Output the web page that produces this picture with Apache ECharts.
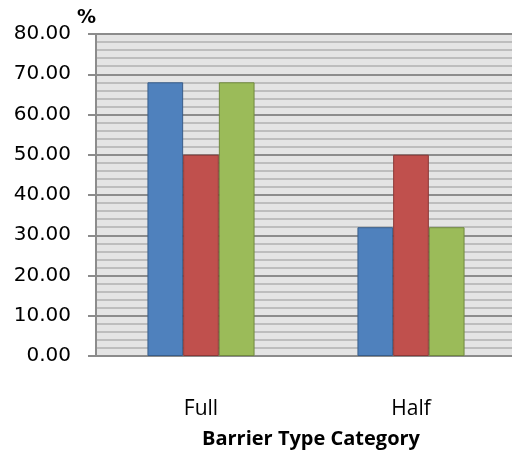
<!DOCTYPE html>
<html>
<head>
<meta charset="utf-8">
<script src="https://cdn.jsdelivr.net/npm/echarts@6/dist/echarts.min.js"></script>
<style>
  html, body { margin: 0; padding: 0; background: #ffffff; }
  #chart { width: 512px; height: 450px; }
</style>
</head>
<body>
<div id="chart"></div>
<script>
// Barrier type categories and the share (%) for each of the three series
const categories = ['Full', 'Half'];
const seriesA = [68, 32];
const seriesB = [50, 50];
const seriesC = [68, 32];
const yTicks = [0, 10, 20, 30, 40, 50, 60, 70, 80];

const colors = ['#4f81bd', '#c0504d', '#9bbb59'];
const borders = ['#385d8a', '#8c3836', '#71893f'];

function barSeries(data, i) {
  return {
    type: 'bar',
    data: data,
    barGap: '0%',
    barCategoryGap: '49%',
    itemStyle: { color: colors[i], borderColor: borders[i], borderWidth: 1 }
  };
}

const chart = echarts.init(document.getElementById('chart'), null, { renderer: 'canvas' });
chart.setOption({
  animation: false,
  grid: {
    left: 96, top: 34, right: -4, bottom: 94,
    outerBoundsMode: 'none',
    containLabel: false,
    show: true, backgroundColor: '#e4e4e4', borderWidth: 0
  },
  // unit label above the value axis
  graphic: [{
    type: 'text',
    left: 77,
    top: 9,
    style: { text: '%', font: 'bold 19px "DejaVu Sans"', fill: '#000' }
  }],
  xAxis: {
    type: 'category',
    data: categories,
    axisLine: { lineStyle: { color: '#8c8c8c', width: 2 } },
    axisTick: { show: false },
    axisLabel: { margin: 43, fontFamily: 'Open Sans', fontSize: 21, color: '#000' },
    name: 'Barrier Type Category',
    nameLocation: 'middle',
    nameGap: 73,
    nameTextStyle: { fontFamily: 'Open Sans', fontWeight: 'bold', fontSize: 20, color: '#000', padding: [0, 0, 0, 10] }
  },
  yAxis: {
    type: 'value',
    min: yTicks[0],
    max: yTicks[yTicks.length - 1],
    interval: 10,
    axisLine: { show: true, lineStyle: { color: '#8c8c8c', width: 2 } },
    axisTick: { show: true, length: 8, lineStyle: { color: '#8c8c8c', width: 2 } },
    axisLabel: {
      margin: 25, fontFamily: 'DejaVu Sans', fontSize: 20, color: '#000',
      formatter: v => v.toFixed(2)
    },
    splitLine: { show: true, lineStyle: { color: '#8c8c8c', width: 2 } },
    minorTick: { show: false, splitNumber: 5 },
    minorSplitLine: { show: true, lineStyle: { color: '#bdbdbd', width: 2 } }
  },
  series: [barSeries(seriesA, 0), barSeries(seriesB, 1), barSeries(seriesC, 2)]
});
</script>
</body>
</html>
